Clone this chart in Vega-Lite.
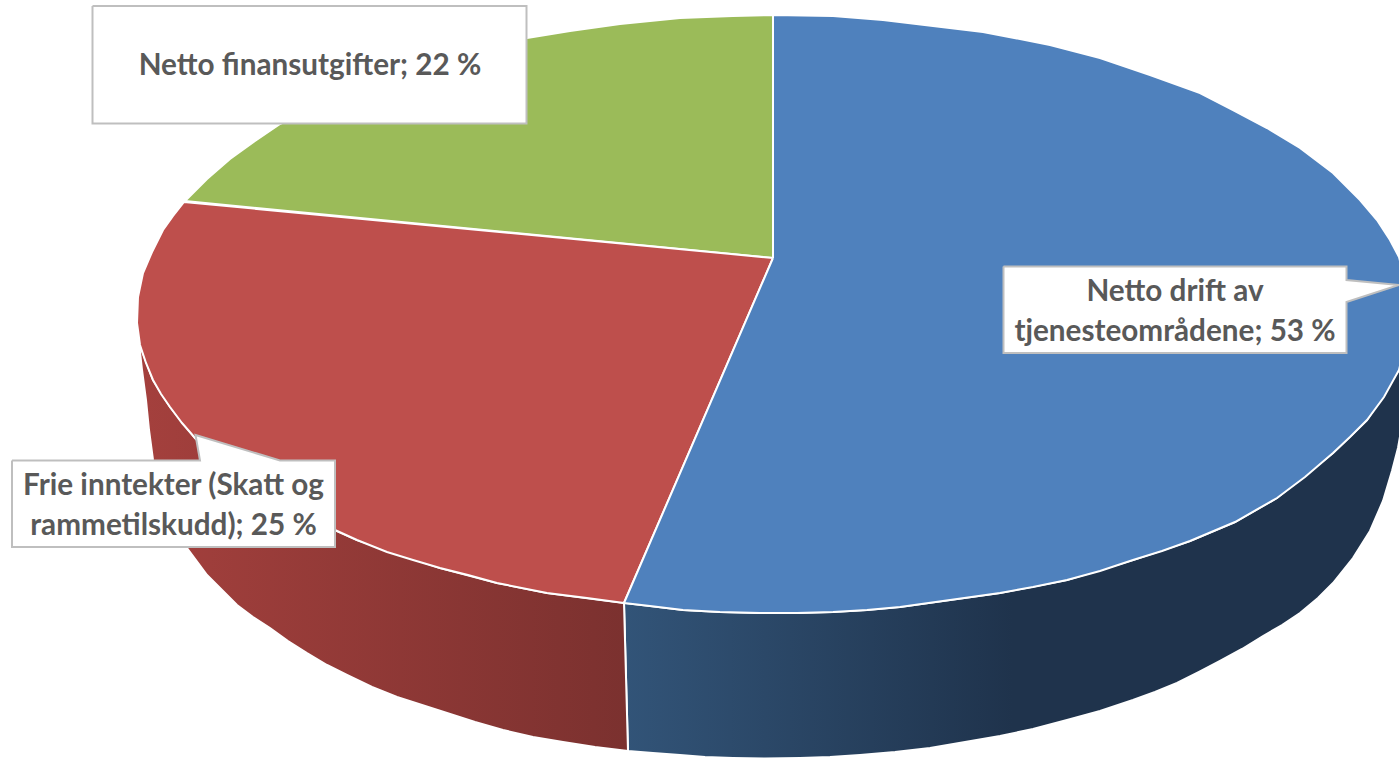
{"$schema":"https://vega.github.io/schema/vega-lite/v6.json","width":1399,"height":758,"padding":0,"autosize":{"type":"none"},"background":"white","config":{"view":{"stroke":null}},
"datasets":{"outlines":[
{"shape":"blueSide","i":0,"x":624,"y":603},{"shape":"blueSide","i":1,"x":650,"y":606},{"shape":"blueSide","i":2,"x":683,"y":610},{"shape":"blueSide","i":3,"x":720,"y":612},{"shape":"blueSide","i":4,"x":760,"y":613},{"shape":"blueSide","i":5,"x":797,"y":613},{"shape":"blueSide","i":6,"x":833,"y":612},{"shape":"blueSide","i":7,"x":867,"y":610},{"shape":"blueSide","i":8,"x":900,"y":607},{"shape":"blueSide","i":9,"x":950,"y":600},{"shape":"blueSide","i":10,"x":1000,"y":593},{"shape":"blueSide","i":11,"x":1067,"y":580},{"shape":"blueSide","i":12,"x":1133,"y":560},{"shape":"blueSide","i":13,"x":1190,"y":541},{"shape":"blueSide","i":14,"x":1235,"y":522},{"shape":"blueSide","i":15,"x":1277,"y":498},{"shape":"blueSide","i":16,"x":1333,"y":453},{"shape":"blueSide","i":17,"x":1367,"y":420},{"shape":"blueSide","i":18,"x":1402,"y":365},{"shape":"blueSide","i":19,"x":1402,"y":425},{"shape":"blueSide","i":20,"x":1398,"y":448},{"shape":"blueSide","i":21,"x":1392,"y":471},{"shape":"blueSide","i":22,"x":1383,"y":501},{"shape":"blueSide","i":23,"x":1370,"y":531},{"shape":"blueSide","i":24,"x":1353,"y":558},{"shape":"blueSide","i":25,"x":1333,"y":583},{"shape":"blueSide","i":26,"x":1318,"y":598},{"shape":"blueSide","i":27,"x":1300,"y":613},{"shape":"blueSide","i":28,"x":1282,"y":625},{"shape":"blueSide","i":29,"x":1263,"y":636},{"shape":"blueSide","i":30,"x":1242,"y":649},{"shape":"blueSide","i":31,"x":1220,"y":661},{"shape":"blueSide","i":32,"x":1199,"y":672},{"shape":"blueSide","i":33,"x":1177,"y":683},{"shape":"blueSide","i":34,"x":1155,"y":692},{"shape":"blueSide","i":35,"x":1133,"y":700},{"shape":"blueSide","i":36,"x":1100,"y":711},{"shape":"blueSide","i":37,"x":1067,"y":720},{"shape":"blueSide","i":38,"x":1033,"y":729},{"shape":"blueSide","i":39,"x":1000,"y":736},{"shape":"blueSide","i":40,"x":965,"y":742},{"shape":"blueSide","i":41,"x":930,"y":748},{"shape":"blueSide","i":42,"x":895,"y":752},{"shape":"blueSide","i":43,"x":860,"y":755},{"shape":"blueSide","i":44,"x":830,"y":757},{"shape":"blueSide","i":45,"x":800,"y":758},{"shape":"blueSide","i":46,"x":765,"y":758.5},{"shape":"blueSide","i":47,"x":733,"y":758},{"shape":"blueSide","i":48,"x":705,"y":757},{"shape":"blueSide","i":49,"x":680,"y":755},{"shape":"blueSide","i":50,"x":653,"y":753},{"shape":"blueSide","i":51,"x":628,"y":751},{"shape":"blueSide","i":52,"x":624,"y":603},
{"shape":"redSide","i":0,"x":139,"y":343},{"shape":"redSide","i":1,"x":153,"y":380},{"shape":"redSide","i":2,"x":170,"y":407},{"shape":"redSide","i":3,"x":195,"y":438},{"shape":"redSide","i":4,"x":240,"y":480},{"shape":"redSide","i":5,"x":290,"y":510},{"shape":"redSide","i":6,"x":357,"y":540},{"shape":"redSide","i":7,"x":440,"y":568},{"shape":"redSide","i":8,"x":497,"y":583},{"shape":"redSide","i":9,"x":547,"y":593},{"shape":"redSide","i":10,"x":624,"y":603},{"shape":"redSide","i":11,"x":628,"y":751},{"shape":"redSide","i":12,"x":595,"y":747},{"shape":"redSide","i":13,"x":563,"y":742},{"shape":"redSide","i":14,"x":533,"y":737},{"shape":"redSide","i":15,"x":503,"y":730},{"shape":"redSide","i":16,"x":475,"y":722},{"shape":"redSide","i":17,"x":447,"y":713},{"shape":"redSide","i":18,"x":422,"y":705},{"shape":"redSide","i":19,"x":397,"y":697},{"shape":"redSide","i":20,"x":372,"y":687},{"shape":"redSide","i":21,"x":347,"y":675},{"shape":"redSide","i":22,"x":327,"y":665},{"shape":"redSide","i":23,"x":307,"y":653},{"shape":"redSide","i":24,"x":288,"y":641},{"shape":"redSide","i":25,"x":270,"y":628},{"shape":"redSide","i":26,"x":253,"y":617},{"shape":"redSide","i":27,"x":237,"y":605},{"shape":"redSide","i":28,"x":222,"y":590},{"shape":"redSide","i":29,"x":207,"y":575},{"shape":"redSide","i":30,"x":187,"y":548},{"shape":"redSide","i":31,"x":170,"y":510},{"shape":"redSide","i":32,"x":160,"y":485},{"shape":"redSide","i":33,"x":153,"y":460},{"shape":"redSide","i":34,"x":149,"y":430},{"shape":"redSide","i":35,"x":146,"y":400},{"shape":"redSide","i":36,"x":142,"y":370},{"shape":"redSide","i":37,"x":139,"y":343},
{"shape":"green","i":0,"x":773,"y":258},{"shape":"green","i":1,"x":185,"y":201},{"shape":"green","i":2,"x":207,"y":179},{"shape":"green","i":3,"x":230,"y":159},{"shape":"green","i":4,"x":255,"y":141},{"shape":"green","i":5,"x":280,"y":124},{"shape":"green","i":6,"x":310,"y":109},{"shape":"green","i":7,"x":340,"y":95},{"shape":"green","i":8,"x":370,"y":83},{"shape":"green","i":9,"x":400,"y":72},{"shape":"green","i":10,"x":440,"y":59},{"shape":"green","i":11,"x":480,"y":49},{"shape":"green","i":12,"x":527,"y":38},{"shape":"green","i":13,"x":570,"y":31},{"shape":"green","i":14,"x":620,"y":24},{"shape":"green","i":15,"x":680,"y":18},{"shape":"green","i":16,"x":733,"y":16},{"shape":"green","i":17,"x":773,"y":15},{"shape":"green","i":18,"x":773,"y":258},
{"shape":"red","i":0,"x":773,"y":258},{"shape":"red","i":1,"x":624,"y":603},{"shape":"red","i":2,"x":587,"y":598},{"shape":"red","i":3,"x":547,"y":593},{"shape":"red","i":4,"x":497,"y":583},{"shape":"red","i":5,"x":468,"y":575},{"shape":"red","i":6,"x":440,"y":568},{"shape":"red","i":7,"x":413,"y":560},{"shape":"red","i":8,"x":387,"y":552},{"shape":"red","i":9,"x":357,"y":540},{"shape":"red","i":10,"x":335,"y":530},{"shape":"red","i":11,"x":312,"y":520},{"shape":"red","i":12,"x":290,"y":510},{"shape":"red","i":13,"x":264,"y":495},{"shape":"red","i":14,"x":240,"y":480},{"shape":"red","i":15,"x":217,"y":460},{"shape":"red","i":16,"x":195,"y":438},{"shape":"red","i":17,"x":182,"y":423},{"shape":"red","i":18,"x":170,"y":407},{"shape":"red","i":19,"x":161,"y":394},{"shape":"red","i":20,"x":153,"y":380},{"shape":"red","i":21,"x":146,"y":363},{"shape":"red","i":22,"x":140,"y":345},{"shape":"red","i":23,"x":137,"y":323},{"shape":"red","i":24,"x":138,"y":297},{"shape":"red","i":25,"x":143,"y":273},{"shape":"red","i":26,"x":152,"y":252},{"shape":"red","i":27,"x":163,"y":230},{"shape":"red","i":28,"x":173,"y":216},{"shape":"red","i":29,"x":184,"y":202},{"shape":"red","i":30,"x":773,"y":258},
{"shape":"blue","i":0,"x":773,"y":258},{"shape":"blue","i":1,"x":773,"y":15},{"shape":"blue","i":2,"x":833,"y":16},{"shape":"blue","i":3,"x":883,"y":20},{"shape":"blue","i":4,"x":933,"y":26},{"shape":"blue","i":5,"x":983,"y":32},{"shape":"blue","i":6,"x":1020,"y":39},{"shape":"blue","i":7,"x":1050,"y":45},{"shape":"blue","i":8,"x":1100,"y":58},{"shape":"blue","i":9,"x":1150,"y":75},{"shape":"blue","i":10,"x":1200,"y":93},{"shape":"blue","i":11,"x":1233,"y":110},{"shape":"blue","i":12,"x":1267,"y":128},{"shape":"blue","i":13,"x":1300,"y":148},{"shape":"blue","i":14,"x":1333,"y":173},{"shape":"blue","i":15,"x":1360,"y":200},{"shape":"blue","i":16,"x":1377,"y":220},{"shape":"blue","i":17,"x":1390,"y":240},{"shape":"blue","i":18,"x":1399,"y":257},{"shape":"blue","i":19,"x":1406,"y":285},{"shape":"blue","i":20,"x":1408,"y":313},{"shape":"blue","i":21,"x":1405,"y":345},{"shape":"blue","i":22,"x":1399,"y":370},{"shape":"blue","i":23,"x":1384,"y":397},{"shape":"blue","i":24,"x":1367,"y":420},{"shape":"blue","i":25,"x":1350,"y":437},{"shape":"blue","i":26,"x":1333,"y":453},{"shape":"blue","i":27,"x":1305,"y":477},{"shape":"blue","i":28,"x":1277,"y":498},{"shape":"blue","i":29,"x":1235,"y":522},{"shape":"blue","i":30,"x":1190,"y":541},{"shape":"blue","i":31,"x":1162,"y":551},{"shape":"blue","i":32,"x":1133,"y":560},{"shape":"blue","i":33,"x":1100,"y":571},{"shape":"blue","i":34,"x":1067,"y":580},{"shape":"blue","i":35,"x":1033,"y":587},{"shape":"blue","i":36,"x":1000,"y":593},{"shape":"blue","i":37,"x":950,"y":600},{"shape":"blue","i":38,"x":900,"y":607},{"shape":"blue","i":39,"x":867,"y":610},{"shape":"blue","i":40,"x":833,"y":612},{"shape":"blue","i":41,"x":797,"y":613},{"shape":"blue","i":42,"x":760,"y":613},{"shape":"blue","i":43,"x":720,"y":612},{"shape":"blue","i":44,"x":683,"y":610},{"shape":"blue","i":45,"x":650,"y":606},{"shape":"blue","i":46,"x":624,"y":603},{"shape":"blue","i":47,"x":773,"y":258},
{"shape":"callout","part":"finans","i":0,"x":92.5,"y":6},{"shape":"callout","part":"finans","i":1,"x":526.5,"y":6},{"shape":"callout","part":"finans","i":2,"x":526.5,"y":123.5},{"shape":"callout","part":"finans","i":3,"x":92.5,"y":123.5},{"shape":"callout","part":"finans","i":4,"x":92.5,"y":6},
{"shape":"callout","part":"drift","i":0,"x":1003.5,"y":266.5},{"shape":"callout","part":"drift","i":1,"x":1346.5,"y":266.5},{"shape":"callout","part":"drift","i":2,"x":1346.5,"y":280},{"shape":"callout","part":"drift","i":3,"x":1399,"y":285},{"shape":"callout","part":"drift","i":4,"x":1346.5,"y":302},{"shape":"callout","part":"drift","i":5,"x":1346.5,"y":353},{"shape":"callout","part":"drift","i":6,"x":1003.5,"y":353},{"shape":"callout","part":"drift","i":7,"x":1003.5,"y":266.5},
{"shape":"callout","part":"frie","i":0,"x":12,"y":460.5},{"shape":"callout","part":"frie","i":1,"x":200,"y":460.5},{"shape":"callout","part":"frie","i":2,"x":195.5,"y":435},{"shape":"callout","part":"frie","i":3,"x":280,"y":460.5},{"shape":"callout","part":"frie","i":4,"x":335,"y":460.5},{"shape":"callout","part":"frie","i":5,"x":335,"y":547},{"shape":"callout","part":"frie","i":6,"x":12,"y":547},{"shape":"callout","part":"frie","i":7,"x":12,"y":460.5}
],
"labels":[
{"category":"Netto finansutgifter","share":22,"text":"Netto finansutgifter; 22 %","x":310,"y":66},
{"category":"Netto drift av tjenesteområdene","share":53,"text":"Netto drift av","x":1175,"y":292},
{"category":"Netto drift av tjenesteområdene","share":53,"text":"tjenesteområdene; 53 %","x":1175,"y":332},
{"category":"Frie inntekter (Skatt og rammetilskudd)","share":25,"text":"Frie inntekter (Skatt og","x":173.5,"y":486},
{"category":"Frie inntekter (Skatt og rammetilskudd)","share":25,"text":"rammetilskudd); 25 %","x":173.5,"y":526}
]},
"encoding":{"x":{"field":"x","type":"quantitative","axis":null,"scale":{"domain":[0,1399],"nice":false,"zero":false}},"y":{"field":"y","type":"quantitative","axis":null,"scale":{"domain":[758,0],"nice":false,"zero":false}}},
"layer":[
{"data":{"name":"outlines"},"transform":[{"filter":"datum.shape==='blueSide'"}],"mark":{"type":"line","clip":true,"stroke":"white","strokeWidth":2,"fill":{"gradient":"linear","x1":0,"x2":1,"y1":0,"y2":0,"stops":[{"offset":0,"color":"#325478"},{"offset":0.5,"color":"#1F334C"},{"offset":1,"color":"#1F334C"}]}},"encoding":{"order":{"field":"i","type":"quantitative"}}},
{"data":{"name":"outlines"},"transform":[{"filter":"datum.shape==='redSide'"}],"mark":{"type":"line","clip":true,"stroke":"white","strokeWidth":2,"fill":{"gradient":"linear","x1":0,"x2":1,"y1":0,"y2":0,"stops":[{"offset":0,"color":"#A4403D"},{"offset":1,"color":"#7B312F"}]}},"encoding":{"order":{"field":"i","type":"quantitative"}}},
{"data":{"name":"outlines"},"transform":[{"filter":"datum.shape==='green'"}],"mark":{"type":"line","clip":true,"stroke":"white","strokeWidth":2,"fill":"#9BBB59"},"encoding":{"order":{"field":"i","type":"quantitative"}}},
{"data":{"name":"outlines"},"transform":[{"filter":"datum.shape==='red'"}],"mark":{"type":"line","clip":true,"stroke":"white","strokeWidth":2,"fill":"#BE4F4C"},"encoding":{"order":{"field":"i","type":"quantitative"}}},
{"data":{"name":"outlines"},"transform":[{"filter":"datum.shape==='blue'"}],"mark":{"type":"line","clip":true,"stroke":"white","strokeWidth":2,"fill":"#4F81BD"},"encoding":{"order":{"field":"i","type":"quantitative"}}},
{"data":{"name":"outlines"},"transform":[{"filter":"datum.shape==='callout'"}],"mark":{"type":"line","clip":true,"stroke":"#BFBFBF","strokeWidth":2,"fill":"white"},"encoding":{"detail":{"field":"part"},"order":{"field":"i","type":"quantitative"}}},
{"data":{"name":"labels"},"mark":{"type":"text","font":"Lato","fontWeight":"bold","fontSize":29.7,"color":"#595959","align":"center","baseline":"middle"},"encoding":{"text":{"field":"text"}}}
]}
